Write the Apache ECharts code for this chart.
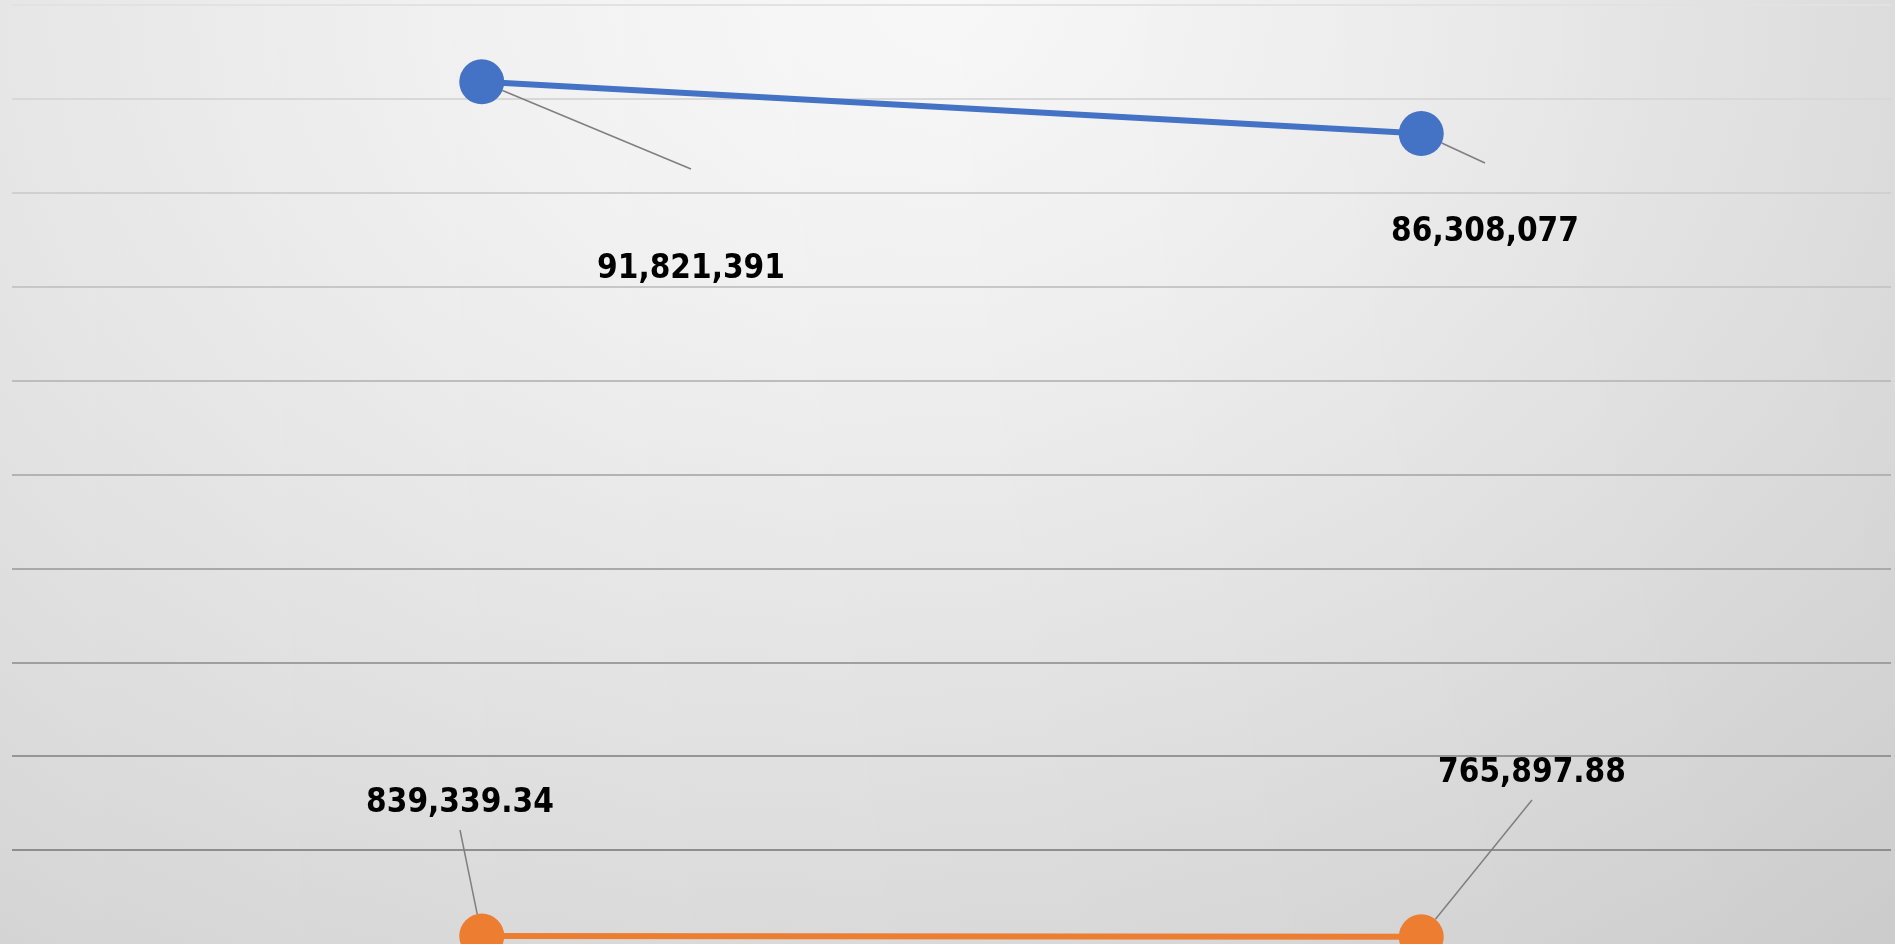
<!DOCTYPE html>
<html>
<head>
<meta charset="utf-8">
<script src="https://cdn.jsdelivr.net/npm/echarts@6/dist/echarts.min.js"></script>
<style>
  html, body { margin: 0; padding: 0; overflow: hidden; }
  body {
    width: 1895px; height: 944px;
    background:
      linear-gradient(to right, rgba(0,0,0,0) 0%, rgba(0,0,0,0.045) 100%),
      radial-gradient(1300px 1000px at 50% 0%, #fdfdfd 0%, #f4f4f4 35%, #e6e6e6 73%, #dedede 94%, #d2d2d2 125%);
  }
  #main { width: 1895px; height: 944px; }
</style>
</head>
<body>
<div id="main"></div>
<script>
// Initialize the echarts instance based on the prepared dom
var myChart = echarts.init(document.getElementById('main'));

// data
var categories = ['A', 'B'];
var seriesA = [91821391, 86308077];
var seriesB = [839339.34, 765897.88];

// where each label sits (label box anchor) and its padding
var labelSpots = [
    [
        { x: 691, y: 169, align: 'center', verticalAlign: 'top' },
        { x: 1485, y: 163, align: 'center', verticalAlign: 'top' }
    ],
    [
        { x: 460, y: 830, align: 'center', verticalAlign: 'bottom' },
        { x: 1532, y: 800, align: 'center', verticalAlign: 'bottom' }
    ]
];
var labelPads = [
    [[84, 0, 140, 0], [53, 0, 60, 0]],
    [[0, 0, 10, 0], [80, 0, 10, 0]]
];

var gridColors = ['rgba(0,0,0,0)', '#8e8e8e', '#969696', '#9f9f9f', '#a9a9a9', '#b3b3b3',
    '#bdbdbd', '#c7c7c7', '#d0d0d0', '#d8d8d8', '#e2e2e2'];

function fmt(v) {
    return v.toLocaleString('en-US', { minimumFractionDigits: v % 1 ? 2 : 0, maximumFractionDigits: 2 });
}

function makeData(values, si) {
    return values.map(function (v, i) {
        return {
            value: v,
            label: { padding: labelPads[si][i] }
        };
    });
}

var labelBase = {
    show: true,
    color: '#000',
    fontWeight: 'bold',
    fontSize: 33,
    lineHeight: 33,
    fontFamily: '"DejaVu Sans Condensed", sans-serif',
    backgroundColor: 'rgba(0,0,0,0)',
    formatter: function (p) { return fmt(p.value); }
};

var option = {
    animation: false,
    grid: { left: 12, right: 4, top: 5, height: 941 },
    xAxis: {
        type: 'category',
        data: categories,
        boundaryGap: true,
        axisLine: { show: false },
        axisTick: { show: false },
        axisLabel: { show: false }
    },
    yAxis: {
        type: 'value',
        min: 0,
        max: 100000000,
        interval: 10000000,
        axisLabel: { show: false },
        axisLine: { show: false },
        axisTick: { show: false },
        splitLine: { show: true, lineStyle: { color: gridColors, width: 2 } }
    },
    series: [
        {
            name: 'A',
            type: 'line',
            data: makeData(seriesA, 0),
            symbol: 'circle',
            symbolSize: 45,
            itemStyle: { color: '#4472C4' },
            lineStyle: { color: '#4472C4', width: 6 },
            label: labelBase,
            labelLine: { show: true, lineStyle: { color: '#7f7f7f', width: 1.5 } },
            labelLayout: function (p) { return labelSpots[0][p.dataIndex]; }
        },
        {
            name: 'B',
            type: 'line',
            data: makeData(seriesB, 1),
            symbol: 'circle',
            symbolSize: 45,
            itemStyle: { color: '#ED7D31' },
            lineStyle: { color: '#ED7D31', width: 6 },
            label: labelBase,
            labelLine: { show: true, lineStyle: { color: '#7f7f7f', width: 1.5 } },
            labelLayout: function (p) { return labelSpots[1][p.dataIndex]; }
        }
    ]
};

// Display the chart using the configuration items and data just specified.
myChart.setOption(option);
</script>
</body>
</html>
